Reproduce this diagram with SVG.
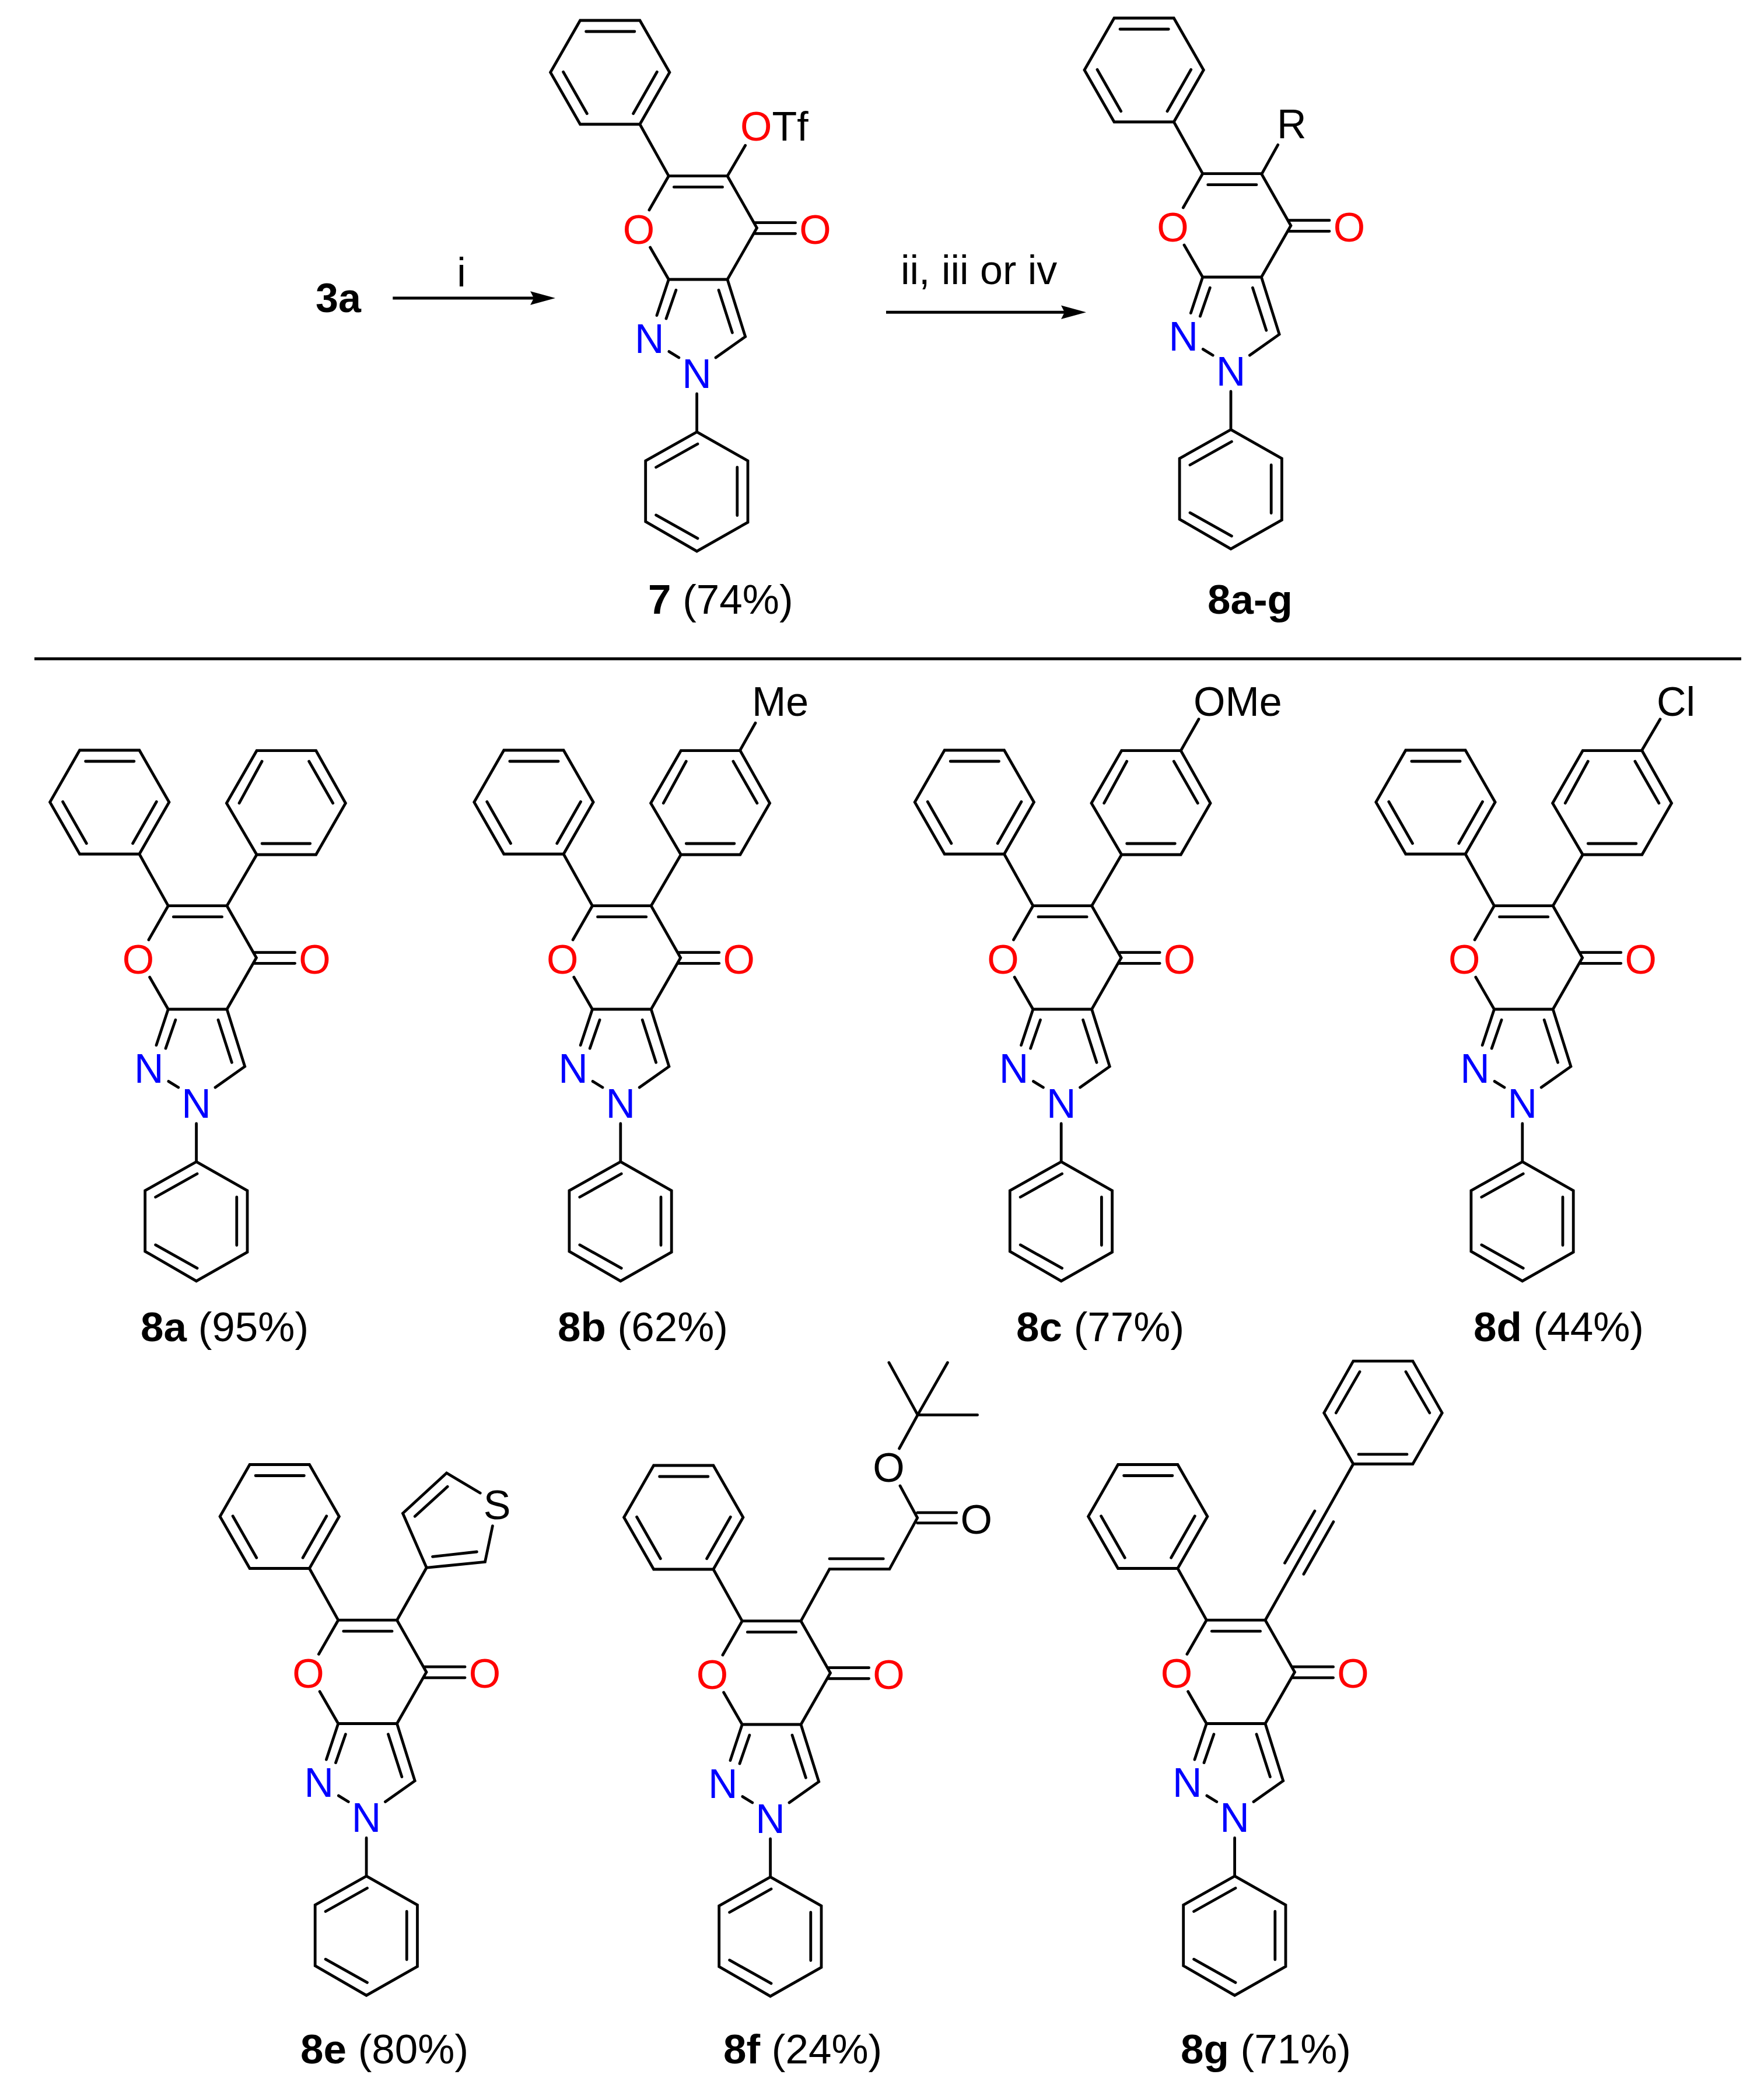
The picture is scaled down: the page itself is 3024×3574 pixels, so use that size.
<svg xmlns="http://www.w3.org/2000/svg" xmlns:xlink="http://www.w3.org/1999/xlink" width="3024" height="3574" viewBox="0 0 3024 3574">
<style>
text{font-family:"Liberation Sans",Arial,sans-serif;font-size:70px;fill:#000}
.b{fill:none;stroke:#000;stroke-width:4.8;stroke-linecap:round;stroke-linejoin:miter;stroke-miterlimit:4}
.o{fill:#f00;text-anchor:middle}
.n{fill:#00f;text-anchor:middle}
.k{text-anchor:middle}
.c{font-size:71px}
.c tspan{font-weight:bold}
.a{fill:none;stroke:#000;stroke-width:5;marker-end:url(#head)}
</style>
<defs>
<marker id="head" markerUnits="userSpaceOnUse" viewBox="0 -12 43 24" refX="16.3" refY="0" markerWidth="43" markerHeight="24" orient="auto"><path d="M0-11.7L43 0L0 11.7L6 0Z" fill="#000"/></marker>
<path id="core" class="b" d="M994.6 35H1096.9L1147.9 124L1096.9 213H994.6L943.6 124ZM1004.6 54H1087.9M965.6 123.3L1006.3 194.7M1126.3 123.3L1085.6 194.7M1096.9 213L1146.3 301.7M1112.9 360L1146.3 301.7H1247L1297.5 390.7L1247 479H1146.3L1114.6 424M1155.3 320.7H1238.6M1293 381.7H1363.6M1293 400.3H1363.6M1146.3 479L1126 540.6M1158.9 497.2L1142 546.1M1247 479L1277.7 577.1L1227 613M1232 497.2L1255.4 570.2M1146.9 602.6L1163.8 613M1194.6 674.9V740.4M1194.6 740.4L1282 789.9V895.3L1194.6 944.9L1106.7 894V789.9ZM1196 761L1124.6 801M1263.8 801V883.6M1124.6 882.9L1196 922.9"/>
<path id="aryl" class="b" d="M1247 301.7L1298.1 214M1298.1 214H1399.7L1450.4 125.7L1399.7 35.7H1298.1L1246.4 125.7ZM1307.1 54L1268.1 125.7M1387.7 54L1428.7 125.7M1307.1 195H1389.7"/>
</defs>
<rect width="3024" height="3574" fill="#fff"/>

<g id="connectors">
<line class="a" x1="673.3" y1="511" x2="925.4" y2="511"/>
<line class="a" x1="1519" y1="535.3" x2="1835.3" y2="535.3"/>
<line x1="59" y1="1129.3" x2="2985" y2="1129.3" stroke="#000" stroke-width="5"/>
</g>

<g id="reagent-3a"><text x="541" y="535" font-weight="bold">3a</text></g>
<g id="label-i"><text class="k" x="791" y="490.7">i</text></g>
<g id="label-ii-iii-iv"><text x="1544" y="486.7">ii, iii or iv</text></g>

<g id="m7">
<use href="#core"/>
<path class="b" d="M1247 301.7L1277.7 249.3"/>
<text class="o" x="1095" y="417.5">O</text>
<text class="o" x="1397.5" y="417.5">O</text>
<text class="n" x="1113.4" y="604.7">N</text>
<text class="n" x="1194.6" y="664.6">N</text>
<text x="1269" y="241"><tspan fill="#f00">O</tspan>Tf</text>
</g>
<g id="label-7"><text class="c" x="1111" y="1052"><tspan>7</tspan> (74%)</text></g>

<g id="m8">
<g transform="translate(915.4,-4)">
<use href="#core"/>
<text class="o" x="1095" y="417.5">O</text>
<text class="o" x="1397.5" y="417.5">O</text>
<text class="n" x="1113.4" y="604.7">N</text>
<text class="n" x="1194.6" y="664.6">N</text>
</g>
<path class="b" d="M2163.3 297.7L2190.7 248.3"/>
<text x="2189" y="237.3">R</text>
</g>
<g id="label-8a-g"><text class="c" x="2070" y="1052" font-weight="bold">8a-g</text></g>

<g id="m8a">
<g transform="translate(-858,1251)">
<use href="#core"/><use href="#aryl"/>
<text class="o" x="1095" y="417.5">O</text>
<text class="o" x="1397.5" y="417.5">O</text>
<text class="n" x="1113.4" y="604.7">N</text>
<text class="n" x="1194.6" y="664.6">N</text>
</g>
</g>
<g id="label-8a"><text class="c" x="241" y="2299"><tspan>8a</tspan> (95%)</text></g>

<g id="m8b">
<g transform="translate(-130.8,1251)">
<use href="#core"/><use href="#aryl"/>
<text class="o" x="1095" y="417.5">O</text>
<text class="o" x="1397.5" y="417.5">O</text>
<text class="n" x="1113.4" y="604.7">N</text>
<text class="n" x="1194.6" y="664.6">N</text>
</g>
<path class="b" d="M1268.3 1286.7L1295 1239.3"/>
<text x="1289" y="1226.7">Me</text>
</g>
<g id="label-8b"><text class="c" x="956" y="2299"><tspan>8b</tspan> (62%)</text></g>

<g id="m8c">
<g transform="translate(624.6,1251)">
<use href="#core"/><use href="#aryl"/>
<text class="o" x="1095" y="417.5">O</text>
<text class="o" x="1397.5" y="417.5">O</text>
<text class="n" x="1113.4" y="604.7">N</text>
<text class="n" x="1194.6" y="664.6">N</text>
</g>
<path class="b" d="M2024.3 1286.7L2055 1232.7"/>
<text x="2046" y="1227.3">OMe</text>
</g>
<g id="label-8c"><text class="c" x="1742" y="2299"><tspan>8c</tspan> (77%)</text></g>

<g id="m8d">
<g transform="translate(1415.2,1251)">
<use href="#core"/><use href="#aryl"/>
<text class="o" x="1095" y="417.5">O</text>
<text class="o" x="1397.5" y="417.5">O</text>
<text class="n" x="1113.4" y="604.7">N</text>
<text class="n" x="1194.6" y="664.6">N</text>
</g>
<path class="b" d="M2814.3 1286.7L2846 1232.7"/>
<text x="2840" y="1227.3">Cl</text>
</g>
<g id="label-8d"><text class="c" x="2526" y="2299"><tspan>8d</tspan> (44%)</text></g>

<g id="m8e">
<g transform="translate(-566.5,2475.5)">
<use href="#core"/>
<text class="o" x="1095" y="417.5">O</text>
<text class="o" x="1397.5" y="417.5">O</text>
<text class="n" x="1113.4" y="604.7">N</text>
<text class="n" x="1194.6" y="664.6">N</text>
</g>
<path class="b" d="M680.5 2777.2L731.2 2687.3M844.4 2615.7L831.5 2677.3L731.2 2687.3L690.5 2594L765.6 2525L823.2 2559.3M711.3 2599.3L767.2 2548.3M741.5 2668.3L817.4 2660"/>
<text class="k" x="852" y="2604">S</text>
</g>
<g id="label-8e"><text class="c" x="515" y="3537"><tspan>8e</tspan> (80%)</text></g>

<g id="m8f">
<g transform="translate(126,2477)">
<use href="#core"/>
<text class="o" x="1095" y="417.5">O</text>
<text class="o" x="1397.5" y="417.5">O</text>
<text class="n" x="1113.4" y="604.7">N</text>
<text class="n" x="1194.6" y="664.6">N</text>
</g>
<path class="b" d="M1373 2778.7L1422 2689.7H1524.9L1572.7 2601.8L1543 2546.9M1422 2671.9H1514.3M1572.7 2592.9H1639.7M1572.7 2610.7H1639.7M1541.6 2483L1573.2 2425.4M1573.2 2425.4L1523.9 2335.7M1573.2 2425.4L1624.4 2335.7M1573.2 2425.4H1675.6"/>
<text class="k" x="1523.4" y="2540">O</text>
<text class="k" x="1673.7" y="2628.5">O</text>
</g>
<g id="label-8f"><text class="c" x="1240" y="3537"><tspan>8f</tspan> (24%)</text></g>

<g id="m8g">
<g transform="translate(922,2475.5)">
<use href="#core"/>
<text class="o" x="1095" y="417.5">O</text>
<text class="o" x="1397.5" y="417.5">O</text>
<text class="n" x="1113.4" y="604.7">N</text>
<text class="n" x="1194.6" y="664.6">N</text>
</g>
<path class="b" d="M2169 2777.2L2319.9 2509.5M2202.5 2679.2L2253.9 2590M2234.9 2698.3L2285.9 2608.6M2319.9 2509.5H2421.9L2472.2 2421.9L2421.9 2333.1H2319.9L2269.7 2421.9ZM2329 2492.9H2412M2290.3 2421.9L2331 2351.4M2450.8 2421.9L2410 2351.4"/>
</g>
<g id="label-8g"><text class="c" x="2024" y="3537"><tspan>8g</tspan> (71%)</text></g>
</svg>
